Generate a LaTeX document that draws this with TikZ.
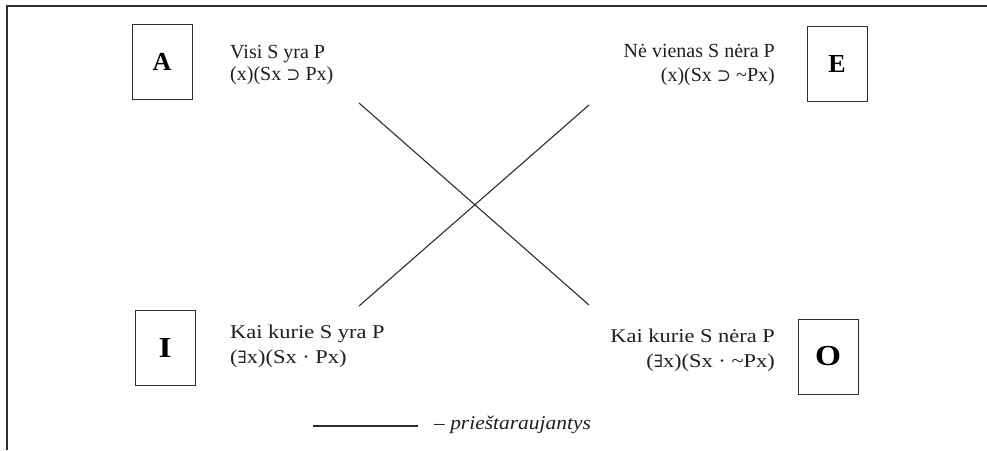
\documentclass[tikz,border=0pt]{standalone}
\usepackage{fontspec}
\setmainfont{Liberation Serif}
\newfontfamily\lowfont[FakeStretch=1.15]{Liberation Serif}
\newfontfamily\legfont[FakeStretch=1.1]{Liberation Serif}
\newfontfamily\symfont{DejaVu Serif}
\newcommand{\supsym}{{\symfont\fontsize{17}{17}\selectfont ⊃}}
\newcommand{\exsym}{{\symfont\fontsize{17}{17}\selectfont ∃}}
\definecolor{ink}{HTML}{2E2E2E}
\begin{document}
\begin{tikzpicture}[x=1pt,y=-1pt,
  letterbox/.style={draw=ink,line width=0.9pt,minimum width=60pt,minimum height=75pt,inner sep=0pt,text=black},
  toptext/.style={inner sep=0pt,font=\fontsize{20}{22}\selectfont,text=black!88},
  lowtext/.style={inner sep=0pt,font=\lowfont\fontsize{19.5}{23}\selectfont,text=black!88},
  xline/.style={draw=ink,line width=1.1pt}]
\useasboundingbox (0,0) rectangle (987,450);
\fill[white] (0,0) rectangle (987,450);
% frame
\coordinate (f1) at (7,450);
\coordinate (f2) at (7,6);
\coordinate (f3) at (987,6);
\draw[ink,line width=1.4pt] (f1) -- (f2) -- (f3);
% boxes
\node[letterbox,font=\bfseries\fontsize{26}{26}\selectfont] (A) at (162,61.5) {A};
\node[letterbox,font=\bfseries\fontsize{26}{26}\selectfont] (E) at (837,63.5) {E};
\node[letterbox,font=\bfseries\lowfont\fontsize{29}{29}\selectfont] (I) at (165,347.5) {I};
\node[letterbox,font=\bfseries\lowfont\fontsize{29}{29}\selectfont] (O) at (828,356.5) {O};
% texts
\node[toptext,anchor=base west] (a1) at (230,58) {Visi S yra P};
\node[toptext,anchor=base west] (a2) at (230,80) {(x)(Sx \supsym{} Px)};
\node[toptext,anchor=base east] (e1) at (775,57) {Nė vienas S nėra P};
\node[toptext,anchor=base east] (e2) at (775,81) {(x)(Sx \supsym{} \textasciitilde Px)};
\node[lowtext,anchor=base west] (i1) at (230,338) {Kai kurie S yra P};
\node[lowtext,anchor=base west] (i2) at (230,363) {(\exsym x)(Sx · Px)};
\node[lowtext,anchor=base east] (o1) at (775,342) {Kai kurie S nėra P};
\node[lowtext,anchor=base east] (o2) at (775,367) {(\exsym x)(Sx · \textasciitilde Px)};
% contradiction lines
\coordinate (ca) at (359,103);
\coordinate (co) at (589,305);
\coordinate (ce) at (589,105);
\coordinate (ci) at (359,306);
\draw[xline] (ca) -- (co);
\draw[xline] (ce) -- (ci);
% legend
\coordinate (l1) at (313,426);
\coordinate (l2) at (418,426);
\draw[xline] (l1) -- (l2);
\node[lowtext,anchor=base west,font=\legfont\itshape\fontsize{19.5}{23}\selectfont] (leg) at (434,429) {– prieštaraujantys};
\end{tikzpicture}
\end{document}
